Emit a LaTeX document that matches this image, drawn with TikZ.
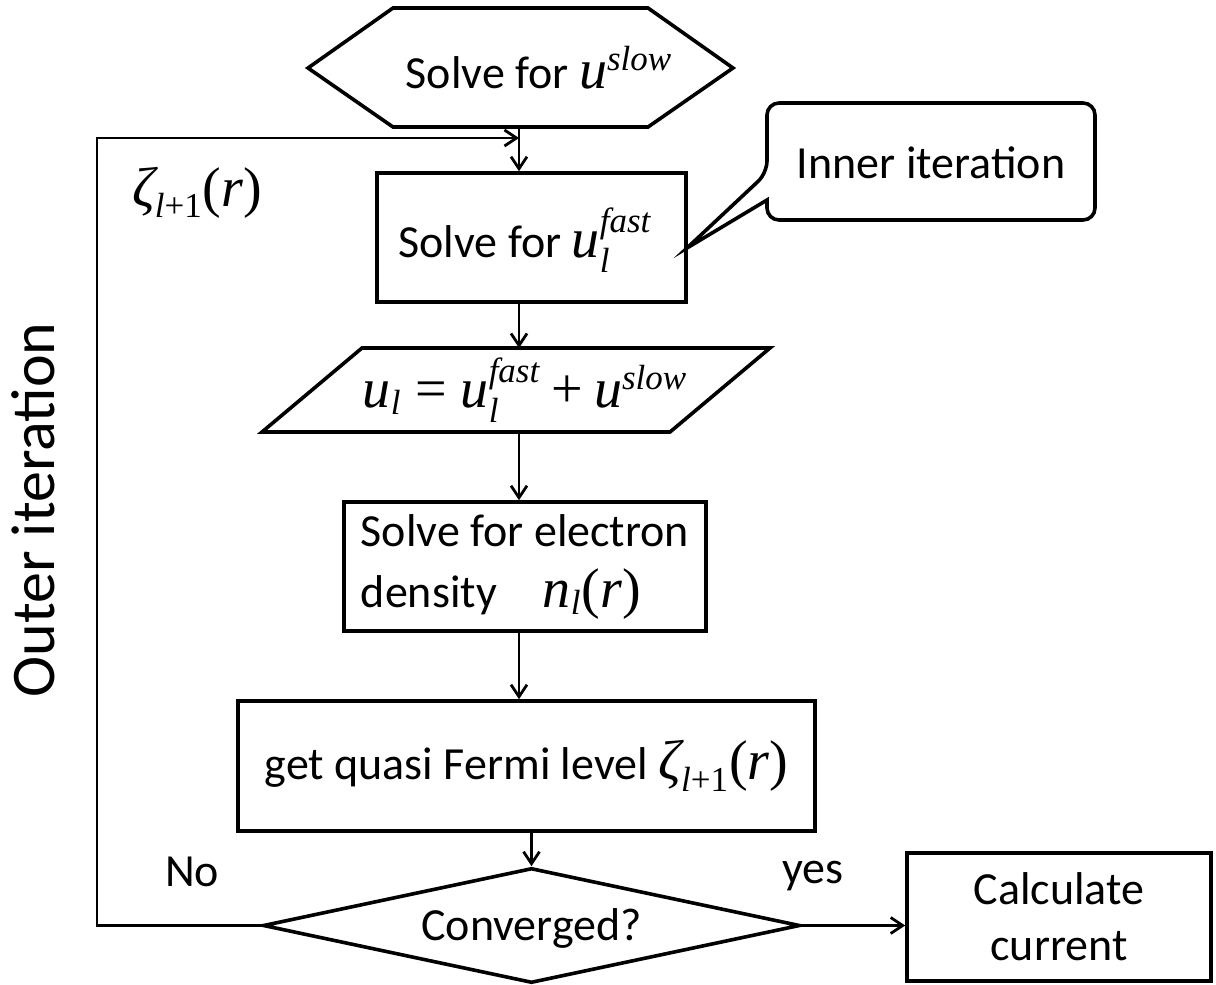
\documentclass[tikz,border=0pt]{standalone}
\usepackage{amsmath}
\usepackage{fontspec}
\setmainfont{Carlito}
\newfontfamily\tms{Liberation Serif}
\usetikzlibrary{arrows.meta,shapes.geometric}
\DeclareMathSizes{28}{28}{17.5}{12}
\newcommand{\mi}[1]{\text{\tms\itshape #1}}
\newcommand{\mup}[1]{\text{\tms #1}}
\newcommand{\M}[1]{{\fontsize{28}{32}\selectfont$#1$}}
\begin{document}
\begin{tikzpicture}[x=0.5pt,y=-0.5pt,line join=miter,
  txt/.style={font=\fontsize{23}{29}\selectfont},
  box/.style={draw,line width=1.8pt,inner sep=0pt,txt},
  shp/.style={line width=1.8pt},
  arr/.style={-{Straight Barb[length=6pt,width=8pt]},line width=1.4pt},
  lbl/.style={txt,inner sep=0pt}]
\useasboundingbox (0,0) rectangle (1216,985);
% hexagon
\draw[shp] (308,68) -- (393,8) -- (648,8) -- (733,68) -- (648,127) -- (393,127) -- cycle;
\node[lbl] (hex) at (539,68) {Solve for \M{\mi{u}^{\mi{slow}}}};
\coordinate (hexs) at (519,127);
% box 1
\node[box,minimum width=154.5pt,minimum height=64.5pt] (b1) at (531.5,237.5) {};
\node[lbl] (b1t) at (525,240) {Solve for \M{\mi{u}_{\mi{l}}^{\mi{fast}}}};
% callout
\draw[shp,rounded corners=6pt] (1095,103) -- (767,103) -- (767,173) [sharp corners] -- (687,248) -- (767,200) [rounded corners=6pt] -- (767,220) -- (1095,220) -- cycle;
\node[lbl] (inner) at (931,163) {Inner iteration};
% parallelogram
\draw[shp] (362,348) -- (770,348) -- (670,432) -- (262,432) -- cycle;
\coordinate (pt) at (519,348);
\coordinate (pb) at (519,432);
\node[lbl] (para) at (525,390) {\M{\mi{u}_{\mi{l}} \mathrel{\mup{=}} \mi{u}_{\mi{l}}^{\mi{fast}} \mathbin{\mup{+}} \mi{u}^{\mi{slow}}}};
% box 3
\node[box,minimum width=181pt,minimum height=64.5pt,align=left,font=\fontsize{23}{30.5}\selectfont] (b3) at (525,566.5) {Solve for electron\\density\quad \M{\mi{n}_{\mi{l}}\mup{(}\mi{r}\mup{)}}};
% box 4
\node[box,minimum width=288.5pt,minimum height=65pt] (b4) at (526.5,766) {get quasi Fermi level \M{\mi{ζ}_{\mi{l}\mup{+1}}\mup{(}\mi{r}\mup{)}}};
% diamond
\node[draw,shp,diamond,aspect=4.6,minimum width=268.5pt,minimum height=57.5pt,inner sep=0pt,txt] (dia) at (531.5,925.5) {};
\node[lbl] (diat) at (531.5,928) {Converged?};
% calc box
\node[box,minimum width=152pt,minimum height=64pt,align=center,font=\fontsize{23}{28}\selectfont] (b5) at (1059,917) {Calculate\\current};
% labels
\node[lbl] (no) at (192,872) {No};
\node[lbl] (yes) at (813,876) {yes};
\node[lbl] (zeta) at (197,193) {\M{\mi{ζ}_{\mi{l}\mup{+1}}\mup{(}\mi{r}\mup{)}}};
\node[font=\fontsize{31}{36}\selectfont,rotate=90,inner sep=0pt] (outer) at (33,510) {Outer iteration};
% connectors
\coordinate (fbt) at (97,138);
\draw[arr] (hexs) -- (hexs |- b1.north);
\draw[arr] (hexs |- b1.south) -- (pt);
\draw[arr] (pb) -- (hexs |- b3.north);
\draw[arr] (hexs |- b3.south) -- (hexs |- b4.north);
\draw[arr] (dia.north |- b4.south) -- (dia.north);
\draw[arr] (dia.east) -- (dia.east -| b5.west);
\draw[arr] (dia.west) -- (dia.west -| fbt) -- (fbt) -- (fbt -| hexs);
\end{tikzpicture}
\end{document}
